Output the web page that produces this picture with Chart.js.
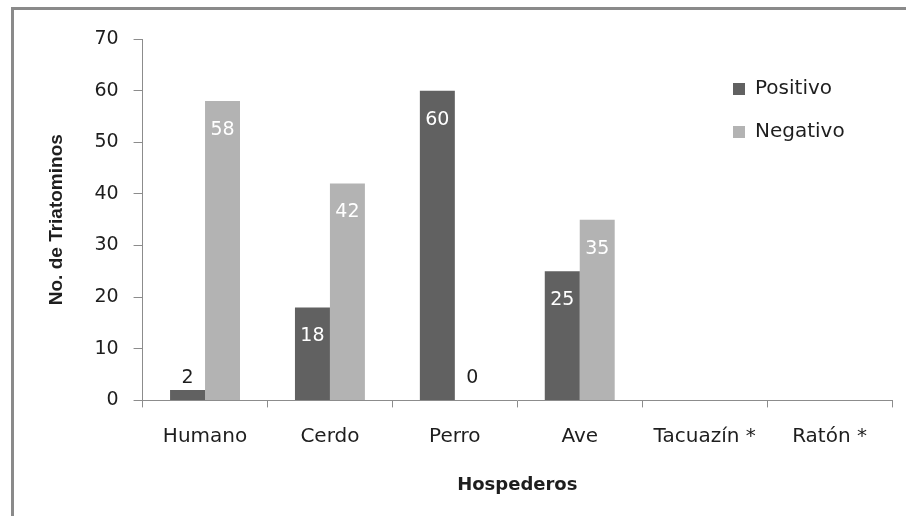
<!DOCTYPE html>
<html>
<head>
<meta charset="utf-8">
<script src="https://cdn.jsdelivr.net/npm/chart.js@4.4.0/dist/chart.umd.min.js"></script>
<style>
  html, body { margin: 0; padding: 0; background: #ffffff; }
  #wrap { position: relative; width: 906px; height: 516px; overflow: hidden; }
  #frame { position: absolute; left: 11px; top: 7px; width: 1000px; height: 600px;
           border-top: 3px solid #8a8a8a; border-left: 3px solid #8a8a8a; pointer-events: none; }
  canvas { position: absolute; left: 0; top: 0; }
</style>
</head>
<body>
<div id="wrap">
  <canvas id="c" width="906" height="516"></canvas>
  <div id="frame"></div>
</div>
<script>
const categories = ["Humano", "Cerdo", "Perro", "Ave", "Tacuazín *", "Ratón *"];
const positivo = [2, 18, 60, 25, null, null];
const negativo = [58, 42, 0, 35, null, null];
const yTicks = [0, 10, 20, 30, 40, 50, 60, 70];
const seriesNames = ["Positivo", "Negativo"];
const yTitle = "No. de Triatominos";
const xTitle = "Hospederos";

const FONT = "'DejaVu Sans', sans-serif";
const AXIS = "#8c8c8c";
const TEXT = "#1e1e1e";

const dataLabels = {
  id: "dataLabels",
  afterDatasetsDraw(chart) {
    const ctx = chart.ctx;
    ctx.save();
    ctx.font = "19px " + FONT;
    ctx.textAlign = "center";
    ctx.textBaseline = "middle";
    chart.data.datasets.forEach((ds, di) => {
      const meta = chart.getDatasetMeta(di);
      meta.data.forEach((el, i) => {
        const v = ds.data[i];
        if (v === null || v === undefined) return;
        const h = el.base - el.y;
        if (h > 40) {
          ctx.fillStyle = "#ffffff";
          ctx.fillText(String(v), el.x, el.y + 29);
        } else {
          ctx.fillStyle = TEXT;
          ctx.fillText(String(v), el.x, Math.min(el.y - 12, el.base - 22));
        }
      });
    });
    ctx.restore();
  }
};

const moveLegend = {
  id: "moveLegend",
  afterLayout(chart) {
    const l = chart.legend;
    if (!l) return;
    const w = l.width, h = l.height;
    l.left = 710; l.right = l.left + w;
    l.top = 56; l.bottom = l.top + h;
  }
};

new Chart(document.getElementById("c"), {
  type: "bar",
  data: {
    labels: categories,
    datasets: [
      { label: seriesNames[0], data: positivo, backgroundColor: "#616161",
        categoryPercentage: 0.56, barPercentage: 1.0 },
      { label: seriesNames[1], data: negativo, backgroundColor: "#b3b3b3",
        categoryPercentage: 0.56, barPercentage: 1.0 }
    ]
  },
  options: {
    responsive: false,
    animation: false,
    devicePixelRatio: 1,
    layout: { padding: { left: 37, top: 39, right: 14, bottom: 20 } },
    plugins: {
      tooltip: { enabled: false },
      legend: {
        position: "chartArea",
        align: "start",
        labels: {
          font: { family: FONT, size: 20 },
          color: TEXT,
          boxWidth: 12,
          boxHeight: 12,
          padding: 23
        }
      }
    },
    scales: {
      x: {
        border: { color: AXIS, width: 1 },
        grid: { display: true, drawOnChartArea: false, drawTicks: true, tickLength: 7, color: AXIS, offset: true },
        ticks: { font: { family: FONT, size: 20 }, color: TEXT, padding: 17, maxRotation: 0 },
        title: { display: true, text: xTitle, font: { family: FONT, size: 18, weight: "bold" }, color: TEXT,
                 padding: { top: 9, bottom: 0 } }
      },
      y: {
        min: 0, max: 70,
        afterBuildTicks(scale) { scale.ticks = yTicks.map(v => ({ value: v })); },
        border: { color: AXIS, width: 1 },
        grid: { display: true, drawOnChartArea: false, drawTicks: true, tickLength: 9, color: AXIS },
        ticks: { font: { family: FONT, size: 19 }, color: TEXT, padding: 15 },
        title: { display: true, text: yTitle, font: { family: "'Liberation Sans', sans-serif", size: 19, weight: "bold" },
                 color: TEXT, padding: { top: 8, bottom: 11.6 } }
      }
    }
  },
  plugins: [dataLabels, moveLegend]
});
</script>
</body>
</html>
